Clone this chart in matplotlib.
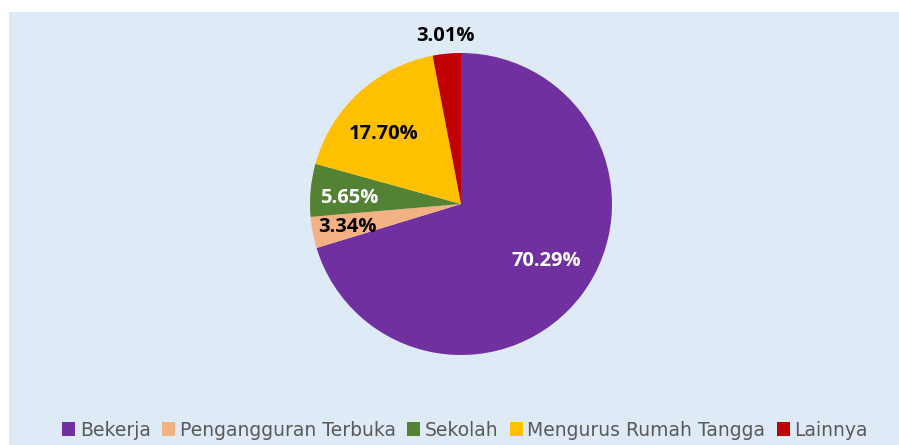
import matplotlib
matplotlib.use('Agg')
import matplotlib.pyplot as plt
from matplotlib.patches import Rectangle, Patch
import numpy as np

labels = ['Bekerja', 'Pengangguran Terbuka', 'Sekolah', 'Mengurus Rumah Tangga', 'Lainnya']
values = [70.29, 3.34, 5.65, 17.70, 3.01]
colors = ['#7030A0', '#F4B183', '#548235', '#FFC000', '#C00000']
label_colors = ['white', 'black', 'white', 'black', 'black']
label_radius = [0.68, 0.77, 0.74, 0.69, 1.12]
label_shift = [3.0, 0.5, 2.0, 5.0, 0.0]  # degrees, nudges label off the wedge middle

fig = plt.figure(figsize=(8.99, 4.45), dpi=100)
fig.patch.set_facecolor('white')

# light blue chart area, behind the pie
fig.patches.append(Rectangle((9 / 899, 0), 1, (445 - 12) / 445,
                             transform=fig.transFigure, facecolor='#DEEAF6',
                             edgecolor='none', zorder=-1))

ax = fig.add_axes([310 / 899, 90 / 445, 302 / 899, 302 / 445])
ax.set_facecolor('none')
wedges, _ = ax.pie(values, colors=colors, startangle=90, counterclock=False,
                   radius=1.0, wedgeprops=dict(linewidth=0))
ax.set_xlim(-1, 1)
ax.set_ylim(-1, 1)
ax.set_aspect('equal')
ax.axis('off')

for w, v, c, r, s in zip(wedges, values, label_colors, label_radius, label_shift):
    ang = np.deg2rad((w.theta1 + w.theta2) / 2 + s)
    ax.text(r * np.cos(ang), r * np.sin(ang), f'{v:.2f}%', ha='center', va='center',
            color=c, fontsize=14.5, fontweight='bold', family='Open Sans')

handles = [Patch(facecolor=c, edgecolor='none') for c in colors]
leg = fig.legend(handles, labels, loc='center', bbox_to_anchor=(465 / 899, 15 / 445),
                 ncol=5, frameon=False, handlelength=0.7, handleheight=0.7,
                 handletextpad=0.25, columnspacing=0.6,
                 prop={'family': ['Liberation Sans Narrow', 'DejaVu Sans'], 'size': 13.5})
for t in leg.get_texts():
    t.set_color('#595959')

fig.savefig('out.png', dpi=100)
